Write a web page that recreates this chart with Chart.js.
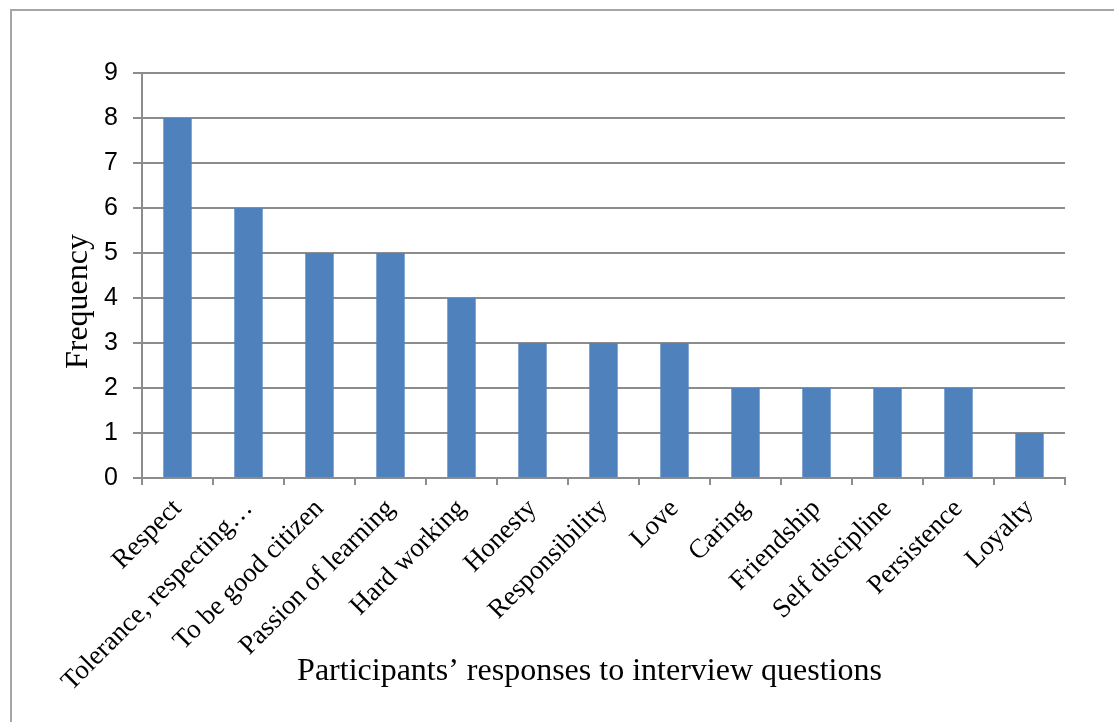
<!DOCTYPE html>
<html>
<head>
<meta charset="utf-8">
<script src="https://cdn.jsdelivr.net/npm/chart.js@4.4.0/dist/chart.umd.min.js"></script>
<style>
    html, body { margin: 0; padding: 0; background: #fff; overflow: hidden; }
    #marco { position: absolute; left: 10px; top: 9px; width: 1200px; height: 800px; border: 2px solid #a6a6a6; }
    #caja { position: absolute; left: 0; top: 0; width: 1114px; height: 722px; }
</style>
</head>
<body>
<div id="marco"></div>
<div id="caja"><canvas id="Respuestas"></canvas></div>
<script>
var categorias = ['Respect', 'Tolerance, respecting\u2026', 'To be good citizen', 'Passion of learning',
    'Hard working', 'Honesty', 'Responsibility', 'Love', 'Caring', 'Friendship',
    'Self discipline', 'Persistence', 'Loyalty'];
var frecuencias = [8, 6, 5, 5, 4, 3, 3, 3, 2, 2, 2, 2, 1];
var tituloX = 'Participants\u2019 responses to interview questions';
var tituloY = 'Frequency';

var gris = '#8c8c8c';

// titulos de los ejes, algo desplazados como en el original
var titulos = {
    id: 'titulos',
    afterDraw: function(chart) {
        var ctx = chart.ctx;
        var area = chart.chartArea;
        ctx.save();
        ctx.fillStyle = '#000';
        ctx.font = '32px "Liberation Serif"';
        ctx.textAlign = 'center';
        ctx.textBaseline = 'middle';
        ctx.fillText(tituloX, (area.left + area.right) / 2 - 14, chart.height - 50);
        ctx.translate(79, (area.top + area.bottom) / 2 + 26);
        ctx.rotate(-Math.PI / 2);
        ctx.fillText(tituloY, 0, 0);
        ctx.restore();
    }
};

new Chart(document.getElementById('Respuestas'), {
    type: 'bar',
    data: {
        labels: categorias,
        datasets: [{
            label: tituloY,
            data: frecuencias,
            backgroundColor: '#4f81bd',
            categoryPercentage: 1,
            barPercentage: 0.4
        }]
    },
    options: {
        responsive: true,
        maintainAspectRatio: false,
        animation: false,
        layout: { padding: { left: 57, top: 73, right: 49, bottom: 27 } },
        plugins: { legend: { display: false }, tooltip: { enabled: false } },
        scales: {
            x: {
                afterFit: function(scale) { scale.height = 217; },
                grid: { display: true, drawOnChartArea: false, drawTicks: true, tickLength: 7, color: gris, lineWidth: 2, offset: true },
                border: { color: gris, width: 2 },
                ticks: { minRotation: 45, maxRotation: 45, autoSkip: false, padding: 8, color: '#000',
                    font: { family: 'Liberation Serif', size: 27 } }
            },
            y: {
                min: 0, max: 9,
                afterFit: function(scale) { scale.width = 85; },
                grid: { color: gris, lineWidth: 2, tickLength: 9 },
                border: { color: gris, width: 2 },
                ticks: { stepSize: 1, padding: 15, color: '#000', font: { family: 'Liberation Sans', size: 25 } }
            }
        }
    },
    plugins: [titulos]
});
</script>
</body>
</html>
